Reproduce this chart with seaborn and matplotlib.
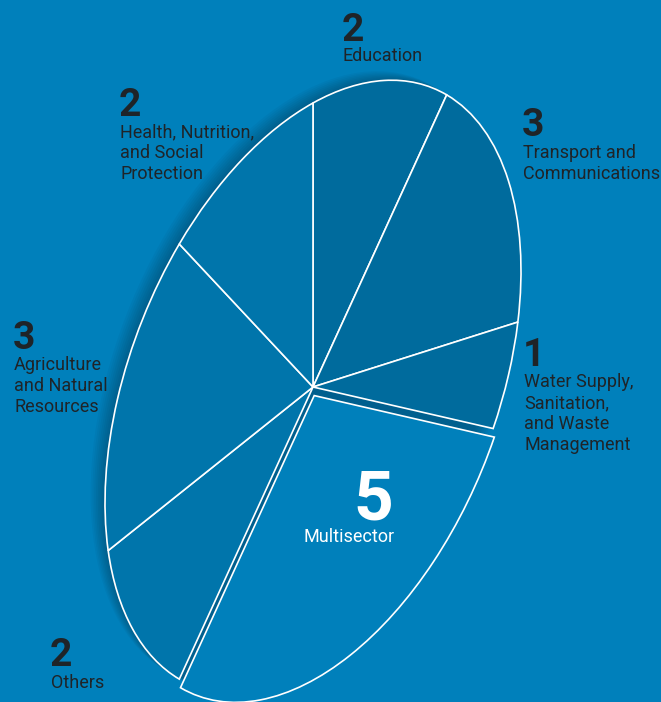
import numpy as np
import matplotlib
matplotlib.use("Agg")
import matplotlib.pyplot as plt
from matplotlib.transforms import Affine2D
from matplotlib.patches import Ellipse
import seaborn as sns

# ---- data ----
categories = ["Education", "Transport and\nCommunications",
              "Water Supply,\nSanitation,\nand Waste\nManagement",
              "Multisector", "Others",
              "Agriculture\nand Natural\nResources",
              "Health, Nutrition,\nand Social\nProtection"]
values = [2, 3, 1, 5, 2, 3, 2]
explode = [0, 0, 0, 0.033, 0, 0, 0]
wedge_colors = ["#006B9D", "#006B9D", "#006B9D", "#0080BB",
                "#0075AB", "#0075AB", "#0075AB"]

BG = "#0080BB"
TXT = "#1F2428"

sns.set_theme(style="white")
plt.rcParams["font.family"] = ["Roboto", "DejaVu Sans"]

W, H = 661, 702
fig = plt.figure(figsize=(W / 100, H / 100), dpi=100, facecolor=BG)
ax = fig.add_axes([0, 0, 1, 1])
ax.set_facecolor(BG)

# affine mapping of the unit pie onto the tilted ellipse (pixel coords, y down)
M = np.array([[208.0, 0.0, 313.0],
              [-116.0, -284.0, 387.0],
              [0.0, 0.0, 1.0]])
aff = Affine2D(M)

# soft shadow on the left of the pie
for i in range(1, 9):
    px = 1.8 * i  # pixels to the left
    ux = -px / 208.0
    uy = -116.0 * ux / 284.0
    e = Ellipse((ux, uy + 0.004 * i), 2, 2, facecolor="black",
                edgecolor="none", alpha=0.03, zorder=0)
    ax.add_patch(e)
    e.set_transform(aff + ax.transData)

wedges, _ = ax.pie(values, explode=explode, colors=wedge_colors,
                   startangle=90, counterclock=False, radius=1,
                   wedgeprops=dict(edgecolor="white", linewidth=1.2))
for w in wedges:
    w.set_transform(aff + ax.transData)
    w.set_zorder(2)

ax.set_aspect("auto")
ax.set_xlim(0, W)
ax.set_ylim(H, 0)
ax.axis("off")

# ---- labels ----
num_fs = 28
lab_fs = 13
lh = 21
# (x, digit baseline, first label baseline)
pos = {
    "Education": (343, 41, 61),
    "Transport and\nCommunications": (523, 136, 158),
    "Water Supply,\nSanitation,\nand Waste\nManagement": (524, 366, 387),
    "Others": (51, 666, 688),
    "Agriculture\nand Natural\nResources": (14, 349, 370),
    "Health, Nutrition,\nand Social\nProtection": (120, 116, 137),
}
for cat, v in zip(categories, values):
    if cat == "Multisector":
        ax.text(373, 519, str(v), color="white", fontsize=50,
                fontweight="bold", ha="center", va="baseline", zorder=5)
        ax.text(349, 542, cat, color="white", fontsize=lab_fs,
                ha="center", va="baseline", zorder=5)
        continue
    x, yd, yl = pos[cat]
    ax.text(x - 1, yd, str(v), color=TXT, fontsize=num_fs, fontweight="bold",
            ha="left", va="baseline", zorder=5)
    for k, line in enumerate(cat.split("\n")):
        ax.text(x, yl + k * lh, line, color=TXT, fontsize=lab_fs,
                ha="left", va="baseline", zorder=5)

fig.savefig("out.png", dpi=100, facecolor=BG)
